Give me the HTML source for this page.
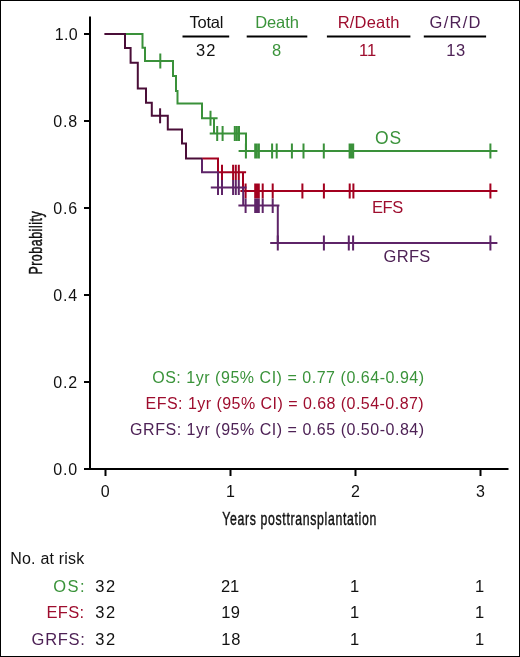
<!DOCTYPE html>
<html><head><meta charset="utf-8">
<style>
html,body{margin:0;padding:0;background:#fff;}
body{width:520px;height:657px;overflow:hidden;position:relative;}
svg{position:absolute;left:0;top:0;display:block;will-change:transform;}
text{font-family:"Liberation Sans",sans-serif;}
</style></head><body>
<svg width="520" height="657" viewBox="0 0 520 657">
<rect x="0.5" y="0.5" width="519" height="656" fill="#fff" stroke="#000" stroke-width="1"/>
<g stroke="#000" stroke-width="2" fill="none">
  <path d="M90,16.5 V470 M84,469 H508.5"/>
  <path d="M84,34 H90 M84,121 H90 M84,208 H90 M84,295 H90 M84,382 H90"/>
  <path d="M105.5,469 V476 M230.5,469 V476 M355.5,469 V476 M480.5,469 V476"/>
  <path d="M182.5,36.5 H229.2 M246.7,36.5 H307.3 M326.9,36.5 H410.4 M423.8,36.5 H486.1"/>
</g>
<text x="54.80" y="39.7" font-size="16" fill="#111" textLength="22.85" lengthAdjust="spacing">1.0</text>
<text x="53.20" y="126.7" font-size="16" fill="#111" textLength="24.05" lengthAdjust="spacing">0.8</text>
<text x="53.20" y="213.7" font-size="16" fill="#111" textLength="24.05" lengthAdjust="spacing">0.6</text>
<text x="53.20" y="300.7" font-size="16" fill="#111" textLength="24.05" lengthAdjust="spacing">0.4</text>
<text x="53.20" y="387.7" font-size="16" fill="#111" textLength="24.05" lengthAdjust="spacing">0.2</text>
<text x="53.20" y="474.7" font-size="16" fill="#111" textLength="24.05" lengthAdjust="spacing">0.0</text>
<text x="100.70" y="496.6" font-size="16" fill="#111">0</text>
<text x="226.10" y="496.6" font-size="16" fill="#111">1</text>
<text x="351.00" y="496.6" font-size="16" fill="#111">2</text>
<text x="476.10" y="496.6" font-size="16" fill="#111">3</text>
<text x="189.50" y="28" font-size="16.5" fill="#111" textLength="33.86" lengthAdjust="spacing">Total</text>
<text x="255.20" y="28" font-size="16.5" fill="#3a933a" textLength="43.63" lengthAdjust="spacing">Death</text>
<text x="337.70" y="28" font-size="16.5" fill="#9e0d2e" textLength="61.73" lengthAdjust="spacing">R/Death</text>
<text x="429.50" y="28" font-size="16.5" fill="#4e2256" textLength="51.04" lengthAdjust="spacing">G/R/D</text>
<text x="196.00" y="56" font-size="16.5" fill="#111" textLength="19.36" lengthAdjust="spacing">32</text>
<text x="272.00" y="56" font-size="16.5" fill="#3a933a">8</text>
<text x="359.00" y="56" font-size="16.5" fill="#9e0d2e" textLength="17.14" lengthAdjust="spacing">11</text>
<text x="446.20" y="56" font-size="16.5" fill="#4e2256" textLength="18.96" lengthAdjust="spacing">13</text>
<text x="375.00" y="143.6" font-size="17.5" fill="#3a933a" textLength="26.30" lengthAdjust="spacing">OS</text>
<text x="372.00" y="212.7" font-size="16.5" fill="#9e0d2e" textLength="31.29" lengthAdjust="spacing">EFS</text>
<text x="383.60" y="262.3" font-size="16.5" fill="#4e2256" textLength="46.64" lengthAdjust="spacing">GRFS</text>
<text x="152.20" y="382.8" font-size="16" fill="#3a933a" textLength="271.89" lengthAdjust="spacing">OS: 1yr (95% CI) = 0.77 (0.64-0.94)</text>
<text x="145.60" y="408.8" font-size="16" fill="#9e0d2e" textLength="278.09" lengthAdjust="spacing">EFS: 1yr (95% CI) = 0.68 (0.54-0.87)</text>
<text x="130.10" y="434.8" font-size="16" fill="#4e2256" textLength="294.02" lengthAdjust="spacing">GRFS: 1yr (95% CI) = 0.65 (0.50-0.84)</text>
<text x="10.25" y="563.8" font-size="16" fill="#111" textLength="74.02" lengthAdjust="spacing">No. at risk</text>
<text x="53.20" y="591.8" font-size="16.5" fill="#3a933a" textLength="31.44" lengthAdjust="spacing">OS:</text>
<text x="46.50" y="618.4" font-size="16.5" fill="#9e0d2e" textLength="37.69" lengthAdjust="spacing">EFS:</text>
<text x="31.60" y="645.0" font-size="16.5" fill="#4e2256" textLength="53.22" lengthAdjust="spacing">GRFS:</text>
<text x="95.20" y="591.8" font-size="16.5" fill="#111" textLength="19.96" lengthAdjust="spacing">32</text>
<text x="95.20" y="618.4" font-size="16.5" fill="#111" textLength="19.96" lengthAdjust="spacing">32</text>
<text x="95.20" y="645.0" font-size="16.5" fill="#111" textLength="19.96" lengthAdjust="spacing">32</text>
<text x="220.90" y="591.8" font-size="16.5" fill="#111" textLength="18.36" lengthAdjust="spacing">21</text>
<text x="221.30" y="618.4" font-size="16.5" fill="#111" textLength="18.76" lengthAdjust="spacing">19</text>
<text x="221.30" y="645.0" font-size="16.5" fill="#111" textLength="19.16" lengthAdjust="spacing">18</text>
<text x="350.00" y="591.8" font-size="16.5" fill="#111">1</text>
<text x="350.00" y="618.4" font-size="16.5" fill="#111">1</text>
<text x="350.00" y="645.0" font-size="16.5" fill="#111">1</text>
<text x="475.00" y="591.8" font-size="16.5" fill="#111">1</text>
<text x="475.00" y="618.4" font-size="16.5" fill="#111">1</text>
<text x="475.00" y="645.0" font-size="16.5" fill="#111">1</text>
<text font-size="18.6" fill="#111" stroke="#111" stroke-width="0.45" transform="translate(222.2 524.7) scale(0.66 1)" textLength="233.5" lengthAdjust="spacing">Years posttransplantation</text>
<text font-size="18.6" fill="#111" stroke="#111" stroke-width="0.45" transform="translate(42.0 274.6) rotate(-90) scale(0.67 1)" textLength="94.4" lengthAdjust="spacing">Probability</text>

<g fill="none" stroke-width="2" stroke-linecap="butt">
  <g stroke="#3a913a">
    <path d="M125,34 H142.5 V47.7 H145 V61 H173 V76 H176 V91 H177.5 V103.4 H202 V118.3 H217.6 M214,118.3 V133.4 M209.7,133.4 H246 V151 M238.6,151 H497.4"/>
    <path d="M160.3,53.5 V68.5 M210.5,110.8 V125.8 M217.2,125.9 V140.9 M222.6,125.9 V140.9 M234.8,125.9 V140.9 M236.9,125.9 V140.9 M239,125.9 V140.9 M245.9,143.5 V158.5 M255.2,143.5 V158.5 M256.8,143.5 V158.5 M258.9,143.5 V158.5 M272.1,143.5 V158.5 M276.7,143.5 V158.5 M291.9,143.5 V158.5 M303.5,143.5 V158.5 M323.8,143.5 V158.5 M349.6,143.5 V158.5 M351.4,143.5 V158.5 M353.2,143.5 V158.5 M490.4,143.5 V158.5"/>
  </g>
  <g stroke="#a3001f">
    <path d="M202,158.5 H218 V172.3 H246.1 M243,172.3 V191 M240.4,191 H497.4"/>
    <path d="M222,164.8 V179.9 M233.1,164.8 V179.9 M235.8,164.8 V179.9 M238.8,164.8 V179.9 M245.6,183.5 V198.5 M255.2,183.5 V198.5 M257,183.5 V198.5 M258.8,183.5 V198.5 M262.7,183.5 V198.5 M272.7,183.5 V198.5 M302.4,183.5 V198.5 M323.9,183.5 V198.5 M349.7,183.5 V198.5 M353.4,183.5 V198.5 M490.4,183.5 V198.5"/>
  </g>
  <g stroke="#5e2468">
    <path d="M202,158.5 V172.3 H218 V187.5 M210.8,187.5 H246.5 M243.2,187.5 V205.5 M238.4,205.5 H279.4 M277.8,205.5 V243 M270.2,243 H497.4"/>
    <path d="M218,180 V195 M222,180 V195 M233.1,180 V195 M235.8,180 V195 M238.8,180 V195 M245.6,198.5 V213 M255.2,198.5 V213 M257,198.5 V213 M258.8,198.5 V213 M262.7,198.5 V213 M272.7,198.5 V213 M277.8,235.5 V250.5 M323.9,235.5 V250.5 M348.8,235.5 V250.5 M353.1,235.5 V250.5 M490.4,235.5 V250.5"/>
  </g>
  <g stroke="#4a0e38">
    <path d="M104.4,34 H125 V48 H130.6 V62.7 H137.8 V88.6 H146 V102.8 H151.8 V115.8 H167.8 V129.6 H182 V143.6 H186 V158.5 H202"/>
    <path d="M160.1,108.3 V123.3"/>
  </g>
</g>
</svg>
</body></html>
